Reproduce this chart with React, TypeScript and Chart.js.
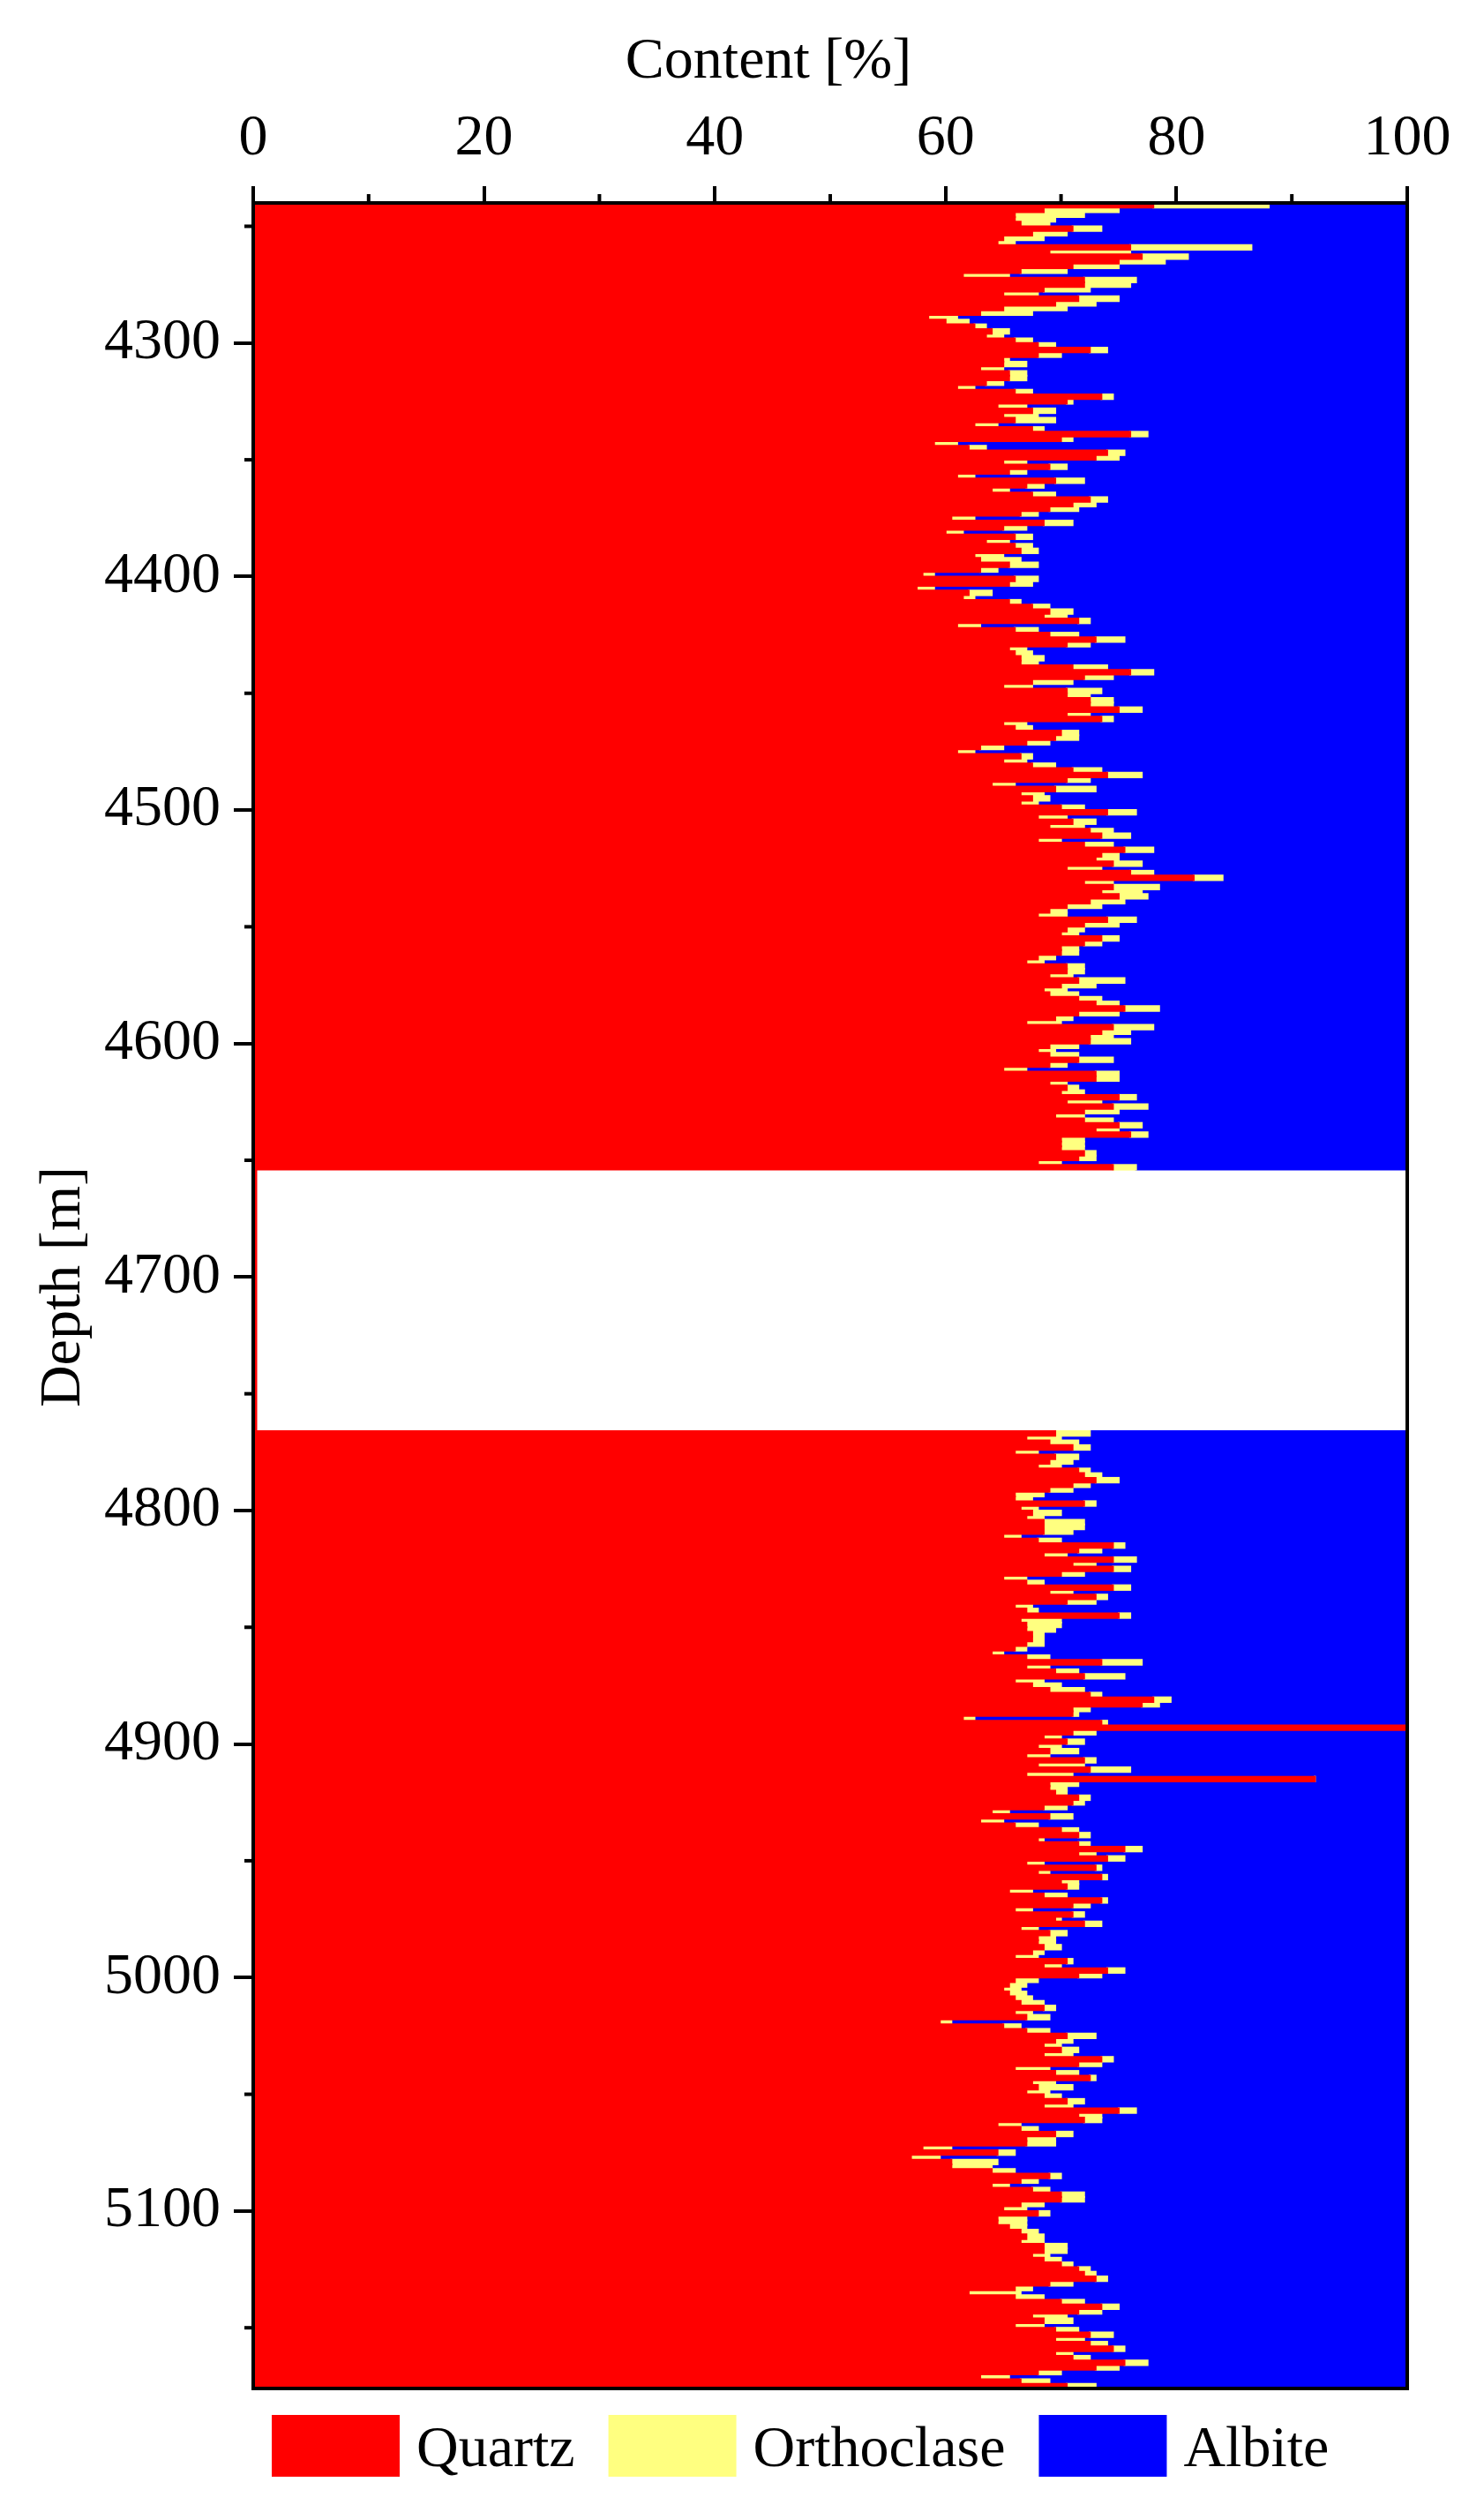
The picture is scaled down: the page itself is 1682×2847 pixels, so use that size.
import React, { useEffect, useRef } from 'react';
import { Chart, registerables } from 'chart.js';

Chart.register(...registerables);

// ---------------- data ----------------
// Sampling interval of the log (m) and first sample depth of each logged interval
const depthStep = 2;
const topStartDepth = 4241;
const bottomStartDepth = 4767;

// Upper logged interval 4240–4654 m (content, %)
const topQuartz = [
  78, 68.5, 66, 66, 66.5, 71, 67.5, 65, 64.5, 76,
  69, 77, 75, 71, 66.5, 61.5, 72, 72, 68.5, 65,
  71.5, 69.5, 65, 63, 58.5, 60, 62.5, 64, 63.5, 66,
  68, 72.5, 68, 65, 65, 63, 65.5, 65.5, 63.5, 61,
  66, 73.5, 70.5, 64.5, 67.5, 65, 66, 62.5, 67.5, 76,
  70, 59, 62, 74, 73, 65, 69, 65.5, 61, 69.5,
  67, 64, 67.5, 72.5, 71, 69, 66.5, 60.5, 68.5, 65,
  60, 66, 63.5, 66, 66.5, 62.5, 63, 65.5, 63, 58,
  66, 65.5, 57.5, 62, 61.5, 65.5, 67.5, 69, 68.5, 71.5,
  61, 66, 69, 73, 70.5, 65.5, 66, 66.5, 66.5, 71,
  76, 72, 67.5, 65, 70.5, 70.5, 72.5, 72.5, 75, 70.5,
  73.5, 65, 66, 70, 69.5, 67, 63, 61, 66.5, 65,
  67.5, 71, 74, 70.5, 64, 69.5, 66.5, 67.5, 66.5, 70,
  74, 68, 71, 69, 72.5, 73.5, 68, 72, 75.5, 73.5,
  73, 74.5, 70.5, 76, 81.5, 72, 74.5, 73.5, 75, 72.5,
  70.5, 69, 68, 74, 72, 70.5, 70, 73.5, 72, 70,
  70, 68, 67, 70.5, 70.5, 69, 71.5, 70, 68.5, 69,
  71.5, 73, 75.5, 71.5, 69.5, 67, 74.5, 73.5, 72.5, 72.5,
  69, 68, 69, 71.5, 69, 65, 73, 73, 69, 70.5,
  70, 75, 70.5, 74.5, 72, 69.5, 72, 75, 73, 76,
  70, 70, 70, 72, 71.5, 68, 74.5,
];
const topOrthoclase = [
  10, 6.5, 6, 3.5, 2.5, 2.5, 3, 3.5, 1.5, 10.5,
  7, 4, 4, 4, 4, 4, 4.5, 4, 4, 3,
  3.5, 3.5, 5.5, 4.5, 2.5, 2, 1, 1.5, 1.5, 1.5,
  1.5, 1.5, 2, 0.5, 2, 2, 1.5, 1.5, 1.5, 1.5,
  1.5, 1, 0.5, 2.5, 2, 3, 3.5, 2, 1, 1.5,
  1, 2, 1.5, 1.5, 2, 2, 1.5, 1.5, 1.5, 2.5,
  1.5, 1.5, 2, 1.5, 2, 2.5, 1.5, 2, 2.5, 2,
  1.5, 1.5, 2, 1.5, 1.5, 2.5, 3.5, 2.5, 1.5, 1,
  2, 2, 1.5, 2, 1, 1, 1.5, 2, 2, 1,
  2, 2, 2.5, 2.5, 2, 1.5, 1.5, 2, 1.5, 3,
  2, 2.5, 3.5, 2.5, 3, 2, 2, 2, 2, 2,
  1, 2, 1.5, 1.5, 2, 2, 2, 1.5, 1, 2,
  2, 2.5, 3, 2, 2, 3.5, 2, 1.5, 1.5, 2,
  2.5, 2.5, 2, 3, 2, 2.5, 2, 2.5, 2.5, 1.5,
  2, 2.5, 3, 2, 2.5, 2.5, 4, 3.5, 2.5, 3,
  3, 1.5, 2.5, 2.5, 3, 1.5, 1.5, 1.5, 1.5, 1.5,
  1.5, 1.5, 1.5, 1.5, 1.5, 2, 4, 3, 2, 2.5,
  2, 2, 3, 3.5, 1.5, 3, 3.5, 2.5, 2, 3.5,
  2.5, 1.5, 2.5, 3, 1.5, 2, 2, 2, 1.5, 1,
  2, 1.5, 3, 3, 3, 2.5, 2.5, 2, 2, 1.5,
  2, 2, 2, 1, 1.5, 2, 2,
];
const topAlbite = [
  12, 25, 28, 30.5, 31, 26.5, 29.5, 31.5, 34, 13.5,
  24, 19, 21, 25, 29.5, 34.5, 23.5, 24, 27.5, 32,
  25, 27, 29.5, 32.5, 39, 38, 36.5, 34.5, 35, 32.5,
  30.5, 26, 30, 34.5, 33, 35, 33, 33, 35, 37.5,
  32.5, 25.5, 29, 33, 30.5, 32, 30.5, 35.5, 31.5, 22.5,
  29, 39, 36.5, 24.5, 25, 33, 29.5, 33, 37.5, 28,
  31.5, 34.5, 30.5, 26, 27, 28.5, 32, 37.5, 29, 33,
  38.5, 32.5, 34.5, 32.5, 32, 35, 33.5, 32, 35.5, 41,
  32, 32.5, 41, 36, 37.5, 33.5, 31, 29, 29.5, 27.5,
  37, 32, 28.5, 24.5, 27.5, 33, 32.5, 31.5, 32, 26,
  22, 25.5, 29, 32.5, 26.5, 27.5, 25.5, 25.5, 23, 27.5,
  25.5, 33, 32.5, 28.5, 28.5, 31, 35, 37.5, 32.5, 33,
  30.5, 26.5, 23, 27.5, 34, 27, 31.5, 31, 32, 28,
  23.5, 29.5, 27, 28, 25.5, 24, 30, 25.5, 22, 25,
  25, 23, 26.5, 22, 16, 25.5, 21.5, 23, 22.5, 24.5,
  26.5, 29.5, 29.5, 23.5, 25, 28, 28.5, 25, 26.5, 28.5,
  28.5, 30.5, 31.5, 28, 28, 29, 24.5, 27, 29.5, 28.5,
  26.5, 25, 21.5, 25, 29, 30, 22, 24, 25.5, 24,
  28.5, 30.5, 28.5, 25.5, 29.5, 33, 25, 25, 29.5, 28.5,
  28, 23.5, 26.5, 22.5, 25, 28, 25.5, 23, 25, 22.5,
  28, 28, 28, 27, 27, 30, 23.5,
];

// Lower logged interval 4766–5176 m (content, %)
const bottomQuartz = [
  69.5, 67, 69, 71, 66, 69.5, 69, 68, 71.5, 72,
  73, 71, 69, 66, 66, 72, 66.5, 67.5, 67, 68.5,
  68.5, 68.5, 65, 68, 74.5, 71.5, 68.5, 74.5, 71, 74.5,
  70, 65, 67, 74.5, 69, 73, 70.5, 66, 67, 75,
  66.5, 67, 67, 67.5, 67.5, 67, 66, 64, 67, 73.5,
  67, 69.5, 72, 66, 67.5, 69, 72.5, 78, 77, 71,
  71, 61.5, 73.5, 100, 71, 68.5, 70.5, 68, 69, 67,
  72, 68, 72.5, 67, 92, 69, 69, 69.5, 71.5, 71,
  68.5, 64, 69, 63, 66, 70, 71.5, 68, 71.5, 75.5,
  71.5, 74, 67, 73, 68, 73.5, 70, 70.5, 65.5, 68.5,
  73.5, 71, 66, 71, 69.5, 72, 66.5, 69, 68, 68,
  68.5, 67.5, 66, 70.5, 68.5, 74, 71.5, 66, 65.5, 65,
  65.5, 66, 66.5, 68.5, 66, 67, 59.5, 65, 67, 70.5,
  69.5, 68.5, 70, 68.5, 73.5, 71.5, 66, 69.5, 72.5, 67.5,
  68, 67, 68.5, 70.5, 68.5, 75, 71.5, 72, 64.5, 66.5,
  69.5, 67, 67, 58, 64.5, 57, 60.5, 60.5, 64, 69,
  66.5, 64, 67.5, 70, 70, 66.5, 65, 68, 64.5, 64.5,
  65.5, 66.5, 67, 66.5, 68.5, 68.5, 67.5, 68.5, 70, 71.5,
  72, 73, 69, 66, 62, 66, 70, 73.5, 71.5, 67.5,
  68.5, 66, 69.5, 72.5, 69.5, 72.5, 74.5, 69.5, 71, 75.5,
  73, 68, 63, 66.5, 70.5,
];
const bottomOrthoclase = [
  3, 3, 2.5, 1.5, 2, 2, 2, 2, 1, 1.5,
  2, 1.5, 2, 2.5, 1.5, 1, 1.5, 2.5, 1.5, 3.5,
  3.5, 2.5, 1.5, 2, 1, 2, 2, 2, 2, 1.5,
  2, 2, 1.5, 1.5, 2, 1, 2.5, 1.5, 1, 1,
  3.5, 3, 2.5, 1, 1, 1.5, 1, 1, 2, 3.5,
  2, 2, 3.5, 2.5, 2.5, 3, 1, 1.5, 1.5, 1.5,
  0.5, 1, 0.5, 0, 2, 1.5, 1.5, 2, 2.5, 2,
  1, 4, 3.5, 4, 0, 2.5, 1.5, 1, 1, 1,
  2, 1.5, 2, 2, 2, 1.5, 1, 0.5, 1, 1.5,
  1.5, 1.5, 1.5, 0.5, 1, 0.5, 1.5, 1, 2, 2,
  0.5, 1.5, 1.5, 1, 0.5, 1.5, 1.5, 1.5, 1.5, 1.5,
  1.5, 1, 2, 0.5, 1.5, 1.5, 2, 2, 1.5, 1.5,
  1.5, 1.5, 2, 1, 1.5, 2, 1, 1.5, 2, 2.5,
  1.5, 1.5, 1.5, 2.5, 1, 2, 3, 2, 0.5, 2,
  3, 2, 1.5, 1.5, 2.5, 1.5, 2, 1.5, 2, 1.5,
  1.5, 2.5, 2.5, 2.5, 1.5, 2.5, 4, 3.5, 2, 1,
  1.5, 1.5, 1.5, 2, 2, 2, 2, 1, 2.5, 2.5,
  1.5, 1.5, 1.5, 2, 2, 2, 1.5, 1.5, 1, 1,
  1, 1, 2, 1.5, 4.5, 2.5, 2, 1.5, 2, 3,
  2.5, 2.5, 2, 2, 2.5, 1.5, 1, 1.5, 1.5, 2,
  2, 2, 2.5, 2.5, 2.5,
];
const bottomAlbite = [
  27.5, 30, 28.5, 27.5, 32, 28.5, 29, 30, 27.5, 26.5,
  25, 27.5, 29, 31.5, 32.5, 27, 32, 30, 31.5, 28,
  28, 29, 33.5, 30, 24.5, 26.5, 29.5, 23.5, 27, 24,
  28, 33, 31.5, 24, 29, 26, 27, 32.5, 32, 24,
  30, 30, 30.5, 31.5, 31.5, 31.5, 33, 35, 31, 23,
  31, 28.5, 24.5, 31.5, 30, 28, 26.5, 20.5, 21.5, 27.5,
  28.5, 37.5, 26, 0, 27, 30, 28, 30, 28.5, 31,
  27, 28, 24, 29, 8, 28.5, 29.5, 29.5, 27.5, 28,
  29.5, 34.5, 29, 35, 32, 28.5, 27.5, 31.5, 27.5, 23,
  27, 24.5, 31.5, 26.5, 31, 26, 28.5, 28.5, 32.5, 29.5,
  26, 27.5, 32.5, 28, 30, 26.5, 32, 29.5, 30.5, 30.5,
  30, 31.5, 32, 29, 30, 24.5, 26.5, 32, 33, 33.5,
  33, 32.5, 31.5, 30.5, 32.5, 31, 39.5, 33.5, 31, 27,
  29, 30, 28.5, 29, 25.5, 26.5, 31, 28.5, 27, 30.5,
  29, 31, 30, 28, 29, 23.5, 26.5, 26.5, 33.5, 32,
  29, 30.5, 30.5, 39.5, 34, 40.5, 35.5, 36, 34, 30,
  32, 34.5, 31, 28, 28, 31.5, 33, 31, 33, 33,
  33, 32, 31.5, 31.5, 29.5, 29.5, 31, 30, 29, 27.5,
  27, 26, 29, 32.5, 33.5, 31.5, 28, 25, 26.5, 29.5,
  29, 31.5, 28.5, 25.5, 28, 26, 24.5, 29, 27.5, 22.5,
  25, 30, 34.5, 31, 27,
];

// Unlogged interval: quartz trace sits on the zero line
const gapDepths = [4654, 4766];
const gapQuartz = [0, 0];

const seriesNames = ['Quartz', 'Orthoclase', 'Albite'];
const seriesColors = ['#FF0000', '#FFFF80', '#0000FF'];

const depthMin = 4240;
const depthMax = 5176;
const contentMin = 0;
const contentMax = 100;
const contentStep = 20;
const depthTickStep = 100;
const contentMinorTicks = [10, 30, 50, 70, 90];
const depthMinorTicks = [4250, 4350, 4450, 4550, 4650, 4750, 4850, 4950, 5050, 5150];

const xTitle = 'Content [%]';
const yTitle = 'Depth [m]';

// ---------------- helpers ----------------
const FONT = '"Liberation Serif", "Times New Roman", Times, serif';
const FONT_SIZE = 66;

const topDepths = topQuartz.map((_, i) => topStartDepth + i * depthStep);
const bottomDepths = bottomQuartz.map((_, i) => bottomStartDepth + i * depthStep);
const allDepths = [...topDepths, ...bottomDepths];
const seriesValues = [
  [...topQuartz, ...bottomQuartz],
  [...topOrthoclase, ...bottomOrthoclase],
  [...topAlbite, ...bottomAlbite],
];

const decorPlugin = {
  id: 'decor',
  afterDatasetsDraw(chart: any) {
    const { ctx, chartArea: a } = chart;
    ctx.save();
    ctx.strokeStyle = '#000';
    ctx.lineWidth = 4;
    ctx.strokeRect(a.left, a.top, a.right - a.left, a.bottom - a.top);
    ctx.restore();
  },
  afterDraw(chart: any) {
    const { ctx, chartArea: a, scales } = chart;
    ctx.save();
    ctx.strokeStyle = '#000';
    ctx.lineWidth = 4;
    ctx.lineCap = 'butt';
    // minor ticks
    for (const v of contentMinorTicks) {
      const px = scales.x.getPixelForValue(v);
      ctx.beginPath();
      ctx.moveTo(px, a.top);
      ctx.lineTo(px, a.top - 10);
      ctx.stroke();
    }
    for (const v of depthMinorTicks) {
      const py = scales.y.getPixelForValue(v);
      ctx.beginPath();
      ctx.moveTo(a.left, py);
      ctx.lineTo(a.left - 10, py);
      ctx.stroke();
    }
    // axis titles
    ctx.fillStyle = '#000';
    ctx.font = `${FONT_SIZE}px ${FONT}`;
    ctx.textAlign = 'center';
    ctx.textBaseline = 'alphabetic';
    ctx.fillText(xTitle, a.left + 584, a.top - 142);
    ctx.save();
    ctx.translate(a.left - 197, (a.top + a.bottom) / 2 - 10);
    ctx.rotate(-Math.PI / 2);
    ctx.fillText(yTitle, 0, 0);
    ctx.restore();
    // legend
    const boxW = 145;
    const boxH = 70;
    let x = a.left + 21;
    const boxTop = a.bottom + 30;
    ctx.textAlign = 'left';
    chart.data.datasets.forEach((ds: any) => {
      if (ds.type === 'line') return;
      ctx.fillStyle = ds.backgroundColor;
      ctx.fillRect(x, boxTop, boxW, boxH);
      ctx.fillStyle = '#000';
      const tx = x + boxW + 19;
      ctx.fillText(ds.label, tx, boxTop + 58);
      x = tx + ctx.measureText(ds.label).width + 38;
    });
    ctx.restore();
  },
};

export default function App() {
  const canvasRef = useRef<HTMLCanvasElement | null>(null);

  useEffect(() => {
    if (!canvasRef.current) return;
    Chart.defaults.font.family = FONT;
    Chart.defaults.font.size = FONT_SIZE;
    Chart.defaults.color = '#000';

    const barSets = seriesNames.map((name, k) => ({
      type: 'bar' as const,
      label: name,
      data: allDepths.map((d, i) => ({ x: seriesValues[k][i], y: d })),
      backgroundColor: seriesColors[k],
      borderWidth: 0,
      inflateAmount: 1,
      categoryPercentage: 1,
      barPercentage: 1,
    }));

    const gapSet = {
      type: 'line' as const,
      label: 'Quartz (no data)',
      indexAxis: 'y' as const,
      data: gapDepths.map((d, i) => ({ x: gapQuartz[i], y: d })),
      borderColor: seriesColors[0],
      borderWidth: 9,
      pointRadius: 0,
      fill: false,
      clip: 0,
    };

    const gridCommon = {
      drawOnChartArea: false,
      drawTicks: true,
      color: '#000',
      lineWidth: 4,
      tickWidth: 4,
      tickColor: '#000',
    };

    const chart = new Chart(canvasRef.current, {
      type: 'bar',
      data: { datasets: [...barSets, gapSet] as any },
      options: {
        indexAxis: 'y',
        responsive: false,
        maintainAspectRatio: false,
        devicePixelRatio: 1,
        animation: false,
        events: [],
        layout: { padding: { left: 0, top: 0, right: 87, bottom: 140 } },
        plugins: {
          legend: { display: false },
          tooltip: { enabled: false },
          title: { display: false },
        },
        scales: {
          x: {
            type: 'linear',
            position: 'top',
            min: contentMin,
            max: contentMax,
            stacked: true,
            afterFit: (s: any) => {
              s.height = 230;
            },
            ticks: {
              stepSize: contentStep,
              autoSkip: false,
              maxRotation: 0,
              padding: 14,
              color: '#000',
              font: { family: FONT, size: FONT_SIZE },
            },
            grid: { ...gridCommon, tickLength: 19 },
            border: { display: true, color: '#000', width: 4 },
          },
          y: {
            type: 'linear',
            position: 'left',
            reverse: true,
            min: depthMin,
            max: depthMax,
            stacked: true,
            offset: false,
            afterFit: (s: any) => {
              s.width = 287;
            },
            ticks: {
              stepSize: depthTickStep,
              includeBounds: false,
              autoSkip: false,
              padding: 15,
              color: '#000',
              font: { family: FONT, size: FONT_SIZE },
              callback: (v: any) => String(v),
            },
            grid: { ...gridCommon, tickLength: 22, offset: false },
            border: { display: true, color: '#000', width: 4 },
          },
        },
      } as any,
      plugins: [decorPlugin],
    });

    return () => chart.destroy();
  }, []);

  return (
    <div style={{ position: 'absolute', left: 0, top: 0, width: 1682, height: 2847, background: '#fff' }}>
      <canvas
        ref={canvasRef}
        width={1682}
        height={2847}
        style={{ width: 1682, height: 2847, display: 'block' }}
      />
    </div>
  );
}
